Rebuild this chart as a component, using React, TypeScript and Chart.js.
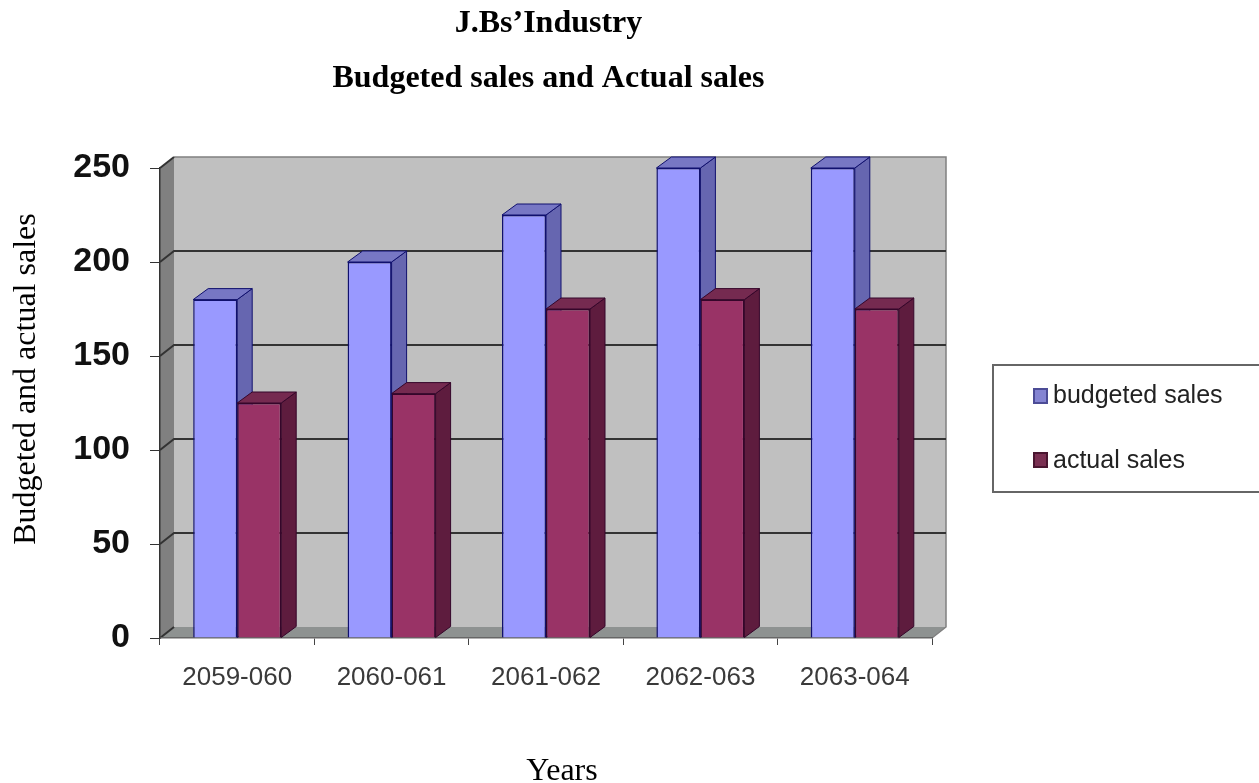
import React, { useEffect, useRef } from "react";
import { Chart, registerables } from "chart.js";

Chart.register(...registerables);

const years = ["2059-060", "2060-061", "2061-062", "2062-063", "2063-064"];
const budgetedSales = [180, 200, 225, 250, 250];
const actualSales = [125, 130, 175, 180, 175];
const yTicks = [0, 50, 100, 150, 200, 250];

const heading = ["J.Bs’Industry", "Budgeted sales and Actual sales"];
const yTitle = "Budgeted and actual sales";
const xTitle = "Years";

const SERIF = '"Liberation Serif", "Times New Roman", serif';
const SANS = '"Liberation Sans", Arial, sans-serif';

// Depth of the plot box and of the bars, in pixels.
const WALL_DX = 14;
const WALL_DY = 11;
const BAR_DX = 15;
const BAR_DY = 11;

const faces = [
  { front: "#9999ff", side: "#6666b0", top: "#7777c4", edge: "#10106e", swatch: "#8484d2", swatchEdge: "#4c4c96" },
  { front: "#993366", side: "#5e1c3e", top: "#752a50", edge: "#35062a", swatch: "#7a3052", swatchEdge: "#4a1630" },
];

function poly(ctx: CanvasRenderingContext2D, pts: number[][], fill: string, stroke?: string, lw = 1) {
  ctx.beginPath();
  pts.forEach(([x, y], i) => (i ? ctx.lineTo(x, y) : ctx.moveTo(x, y)));
  ctx.closePath();
  ctx.fillStyle = fill;
  ctx.fill();
  if (stroke) {
    ctx.strokeStyle = stroke;
    ctx.lineWidth = lw;
    ctx.stroke();
  }
}

// Back wall, side wall, floor and the gridlines that wrap around them.
const plotBox = {
  id: "plotBox",
  beforeDraw(chart: any) {
    const { ctx, chartArea: a, scales } = chart;
    const { left, right, top, bottom } = a;
    ctx.save();
    poly(ctx, [[left + WALL_DX, top - WALL_DY], [right + WALL_DX, top - WALL_DY], [right + WALL_DX, bottom - WALL_DY], [left + WALL_DX, bottom - WALL_DY]], "#c0c0c0");
    poly(ctx, [[left, top], [left + WALL_DX, top - WALL_DY], [left + WALL_DX, bottom - WALL_DY], [left, bottom]], "#808080");
    poly(ctx, [[left, bottom], [left + WALL_DX, bottom - WALL_DY], [right + WALL_DX, bottom - WALL_DY], [right, bottom]], "#8e9291");
    ctx.strokeStyle = "#808080";
    ctx.lineWidth = 1.5;
    ctx.beginPath();
    ctx.moveTo(left + WALL_DX, top - WALL_DY);
    ctx.lineTo(right + WALL_DX, top - WALL_DY);
    ctx.lineTo(right + WALL_DX, bottom - WALL_DY);
    ctx.lineTo(right, bottom);
    ctx.stroke();
    for (const v of yTicks) {
      const y = scales.y.getPixelForValue(v);
      ctx.strokeStyle = "#333";
      ctx.lineWidth = 2;
      ctx.beginPath();
      ctx.moveTo(left, y);
      ctx.lineTo(left + WALL_DX, y - WALL_DY);
      if (v > 0 && v < 250) {
        ctx.lineTo(right + WALL_DX, y - WALL_DY);
      }
      ctx.stroke();
    }
    ctx.restore();
  },
};

// Top and side faces of every bar. Chart.js paints the front faces afterwards,
// last series first, so each front face covers the neighbour's side where they meet.
const barDepth = {
  id: "barDepth",
  beforeDatasetsDraw(chart: any) {
    const { ctx } = chart;
    ctx.save();
    chart.data.datasets.forEach((_: any, i: number) => {
      const f = faces[i];
      for (const el of chart.getDatasetMeta(i).data) {
        const { x, y, width, base } = el.getProps(["x", "y", "width", "base"], true);
        const l = x - width / 2;
        const r = x + width / 2;
        poly(ctx, [[r, y], [r + BAR_DX, y - BAR_DY], [r + BAR_DX, base - BAR_DY], [r, base]], f.side, f.edge, 1);
        poly(ctx, [[l, y], [l + BAR_DX, y - BAR_DY], [r + BAR_DX, y - BAR_DY], [r, y]], f.top, f.edge, 1);
      }
    });
    ctx.restore();
  },
};

// Heading, axis captions and the open-sided legend box.
const annotations = {
  id: "annotations",
  afterDraw(chart: any) {
    const { ctx } = chart;
    ctx.save();
    ctx.fillStyle = "#000";
    ctx.textBaseline = "alphabetic";
    ctx.textAlign = "center";
    ctx.font = `bold 32px ${SERIF}`;
    ctx.fillText(heading[0], 548.5, 32);
    ctx.fillText(heading[1], 548.5, 87);
    ctx.font = `32px ${SERIF}`;
    ctx.fillText(xTitle, 562, 780);
    ctx.save();
    ctx.translate(35, 379);
    ctx.rotate(-Math.PI / 2);
    ctx.fillText(yTitle, 0, 0);
    ctx.restore();

    ctx.strokeStyle = "#666";
    ctx.lineWidth = 2;
    ctx.beginPath();
    ctx.moveTo(1260, 365);
    ctx.lineTo(993, 365);
    ctx.lineTo(993, 492);
    ctx.lineTo(1260, 492);
    ctx.stroke();

    ctx.textAlign = "left";
    ctx.font = `25px ${SANS}`;
    chart.data.datasets.forEach((ds: any, i: number) => {
      const top = 389 + i * 64;
      poly(ctx, [[1034, top], [1047, top], [1047, top + 14], [1034, top + 14]], faces[i].swatch, faces[i].swatchEdge, 2);
      ctx.fillStyle = "#222";
      ctx.fillText(ds.label, 1053, 403 + i * 65);
    });
    ctx.restore();
  },
};

export default function App() {
  const ref = useRef<HTMLCanvasElement>(null);

  useEffect(() => {
    const chart = new Chart(ref.current!, {
      type: "bar",
      data: {
        labels: years,
        datasets: [
          {
            label: "budgeted sales",
            data: budgetedSales,
            backgroundColor: faces[0].front,
            borderColor: faces[0].edge,
            borderWidth: 1.5,
          },
          {
            label: "actual sales",
            data: actualSales,
            backgroundColor: faces[1].front,
            borderColor: faces[1].edge,
            borderWidth: 1.5,
          },
        ],
      },
      options: {
        responsive: false,
        animation: false,
        layout: { padding: { left: 0, top: 168, right: 327, bottom: 0 } },
        datasets: { bar: { categoryPercentage: 0.57, barPercentage: 1 } },
        plugins: { legend: { display: false }, title: { display: false }, tooltip: { enabled: false } },
        scales: {
          x: {
            afterFit: (s: any) => { s.height = 145; },
            grid: { drawOnChartArea: false, drawTicks: true, tickLength: 7, color: "#444", offset: true },
            border: { color: "#666", width: 1.5 },
            ticks: { autoSkip: false, maxRotation: 0, padding: 17, color: "#3a3a3a", font: { family: SANS, size: 26 } },
          },
          y: {
            min: 0,
            max: 250,
            afterFit: (s: any) => { s.width = 160; },
            grid: { drawOnChartArea: false, drawTicks: true, tickLength: 10, color: "#333" },
            border: { color: "#333", width: 1.5 },
            ticks: { stepSize: 50, padding: 20, color: "#111", font: { family: SANS, size: 34, weight: "bold" } },
          },
        },
      },
      plugins: [plotBox, barDepth, annotations],
    });
    return () => chart.destroy();
  }, []);

  return (
    <div style={{ position: "absolute", left: 0, top: 0, width: 1259, height: 783 }}>
      <canvas ref={ref} width={1259} height={783} style={{ display: "block" }} />
    </div>
  );
}
